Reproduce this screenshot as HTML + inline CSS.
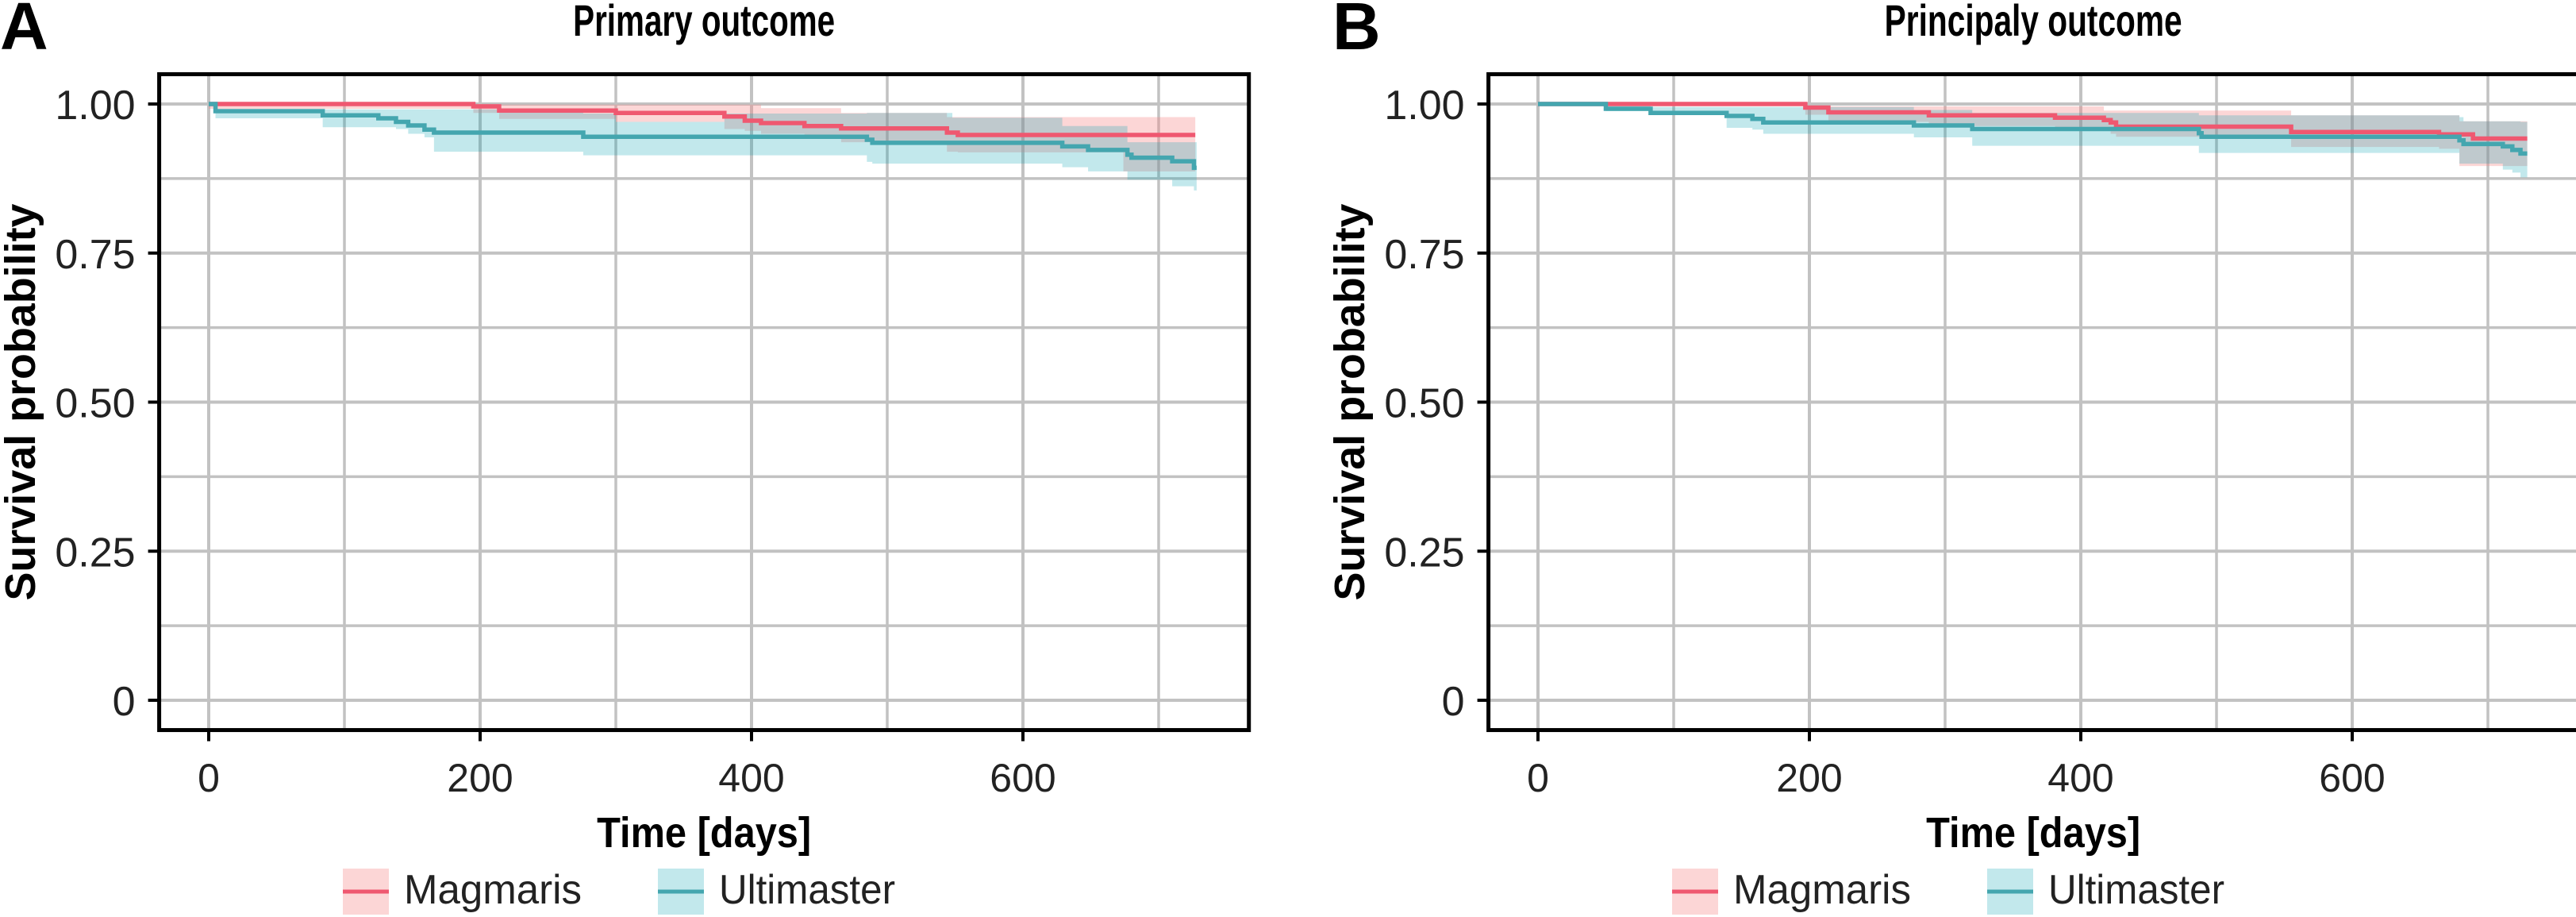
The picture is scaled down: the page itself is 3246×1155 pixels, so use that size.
<!DOCTYPE html>
<html><head><meta charset="utf-8"><style>
html,body{margin:0;padding:0;background:#fff;}
svg{display:block;font-family:"Liberation Sans",sans-serif;}
</style></head><body>
<svg id="chart" width="3246" height="1155" viewBox="0 0 3246 1155" xmlns="http://www.w3.org/2000/svg"></svg>
<script>
// ---- Data: Panel A (Primary outcome) ----
const aMagT  = [0,195,214,300,380,395,407,439,466,544,552,674,727];
const aMagS  = [1,0.996,0.989,0.985,0.979,0.972,0.968,0.963,0.959,0.952,0.948,0.948];
const aMagU  = [1,1,0.999,0.999,0.999,0.999,0.993,0.993,0.985,0.978,0.978,0.978];
const aMagL  = [0.992,0.985,0.975,0.970,0.958,0.955,0.950,0.945,0.936,0.920,0.919,0.887];
const aUltT  = [0,5,84,125,138,147,159,166,276,300,380,485,489,548,629,648,677,680,710,726,728];
const aUltS  = [1,0.988,0.981,0.976,0.970,0.964,0.957,0.952,0.945,0.945,0.945,0.940,0.935,0.935,0.929,0.923,0.915,0.910,0.904,0.893];
const aUltU  = [1,0.991,0.991,0.991,0.991,0.991,0.991,0.991,0.984,0.970,0.984,0.985,0.985,0.977,0.963,0.963,0.936,0.936,0.936,0.936];
const aUltL  = [1,0.976,0.961,0.961,0.958,0.950,0.944,0.920,0.914,0.914,0.914,0.903,0.900,0.900,0.894,0.887,0.873,0.873,0.862,0.855];
// ---- Data: Panel B (Principaly outcome) ----
const bMagT  = [0,197,214,288,381,417,422,426,555,664,679,689,729];
const bMagS  = [1,0.994,0.986,0.981,0.977,0.973,0.969,0.962,0.953,0.949,0.949,0.942];
const bMagU  = [1,0.996,0.996,0.996,0.996,0.989,0.989,0.989,0.981,0.981,0.971,0.971];
const bMagL  = [1,0.982,0.970,0.963,0.955,0.955,0.950,0.945,0.928,0.925,0.896,0.896];
const bUltT  = [0,50,83,139,158,166,277,320,487,489,679,682,711,718,724,729];
const bUltS  = [1,0.992,0.985,0.980,0.975,0.969,0.964,0.958,0.951,0.945,0.939,0.933,0.929,0.923,0.917];
const bUltU  = [1,0.999,0.995,0.995,0.995,0.995,0.990,0.985,0.981,0.981,0.978,0.971,0.971,0.971,0.970];
const bUltL  = [0.997,0.988,0.982,0.960,0.957,0.950,0.944,0.930,0.918,0.918,0.900,0.900,0.890,0.885,0.877];
// ---- Axis ticks ----
const xTicks = [0,200,400,600];
const xMinor = [100,300,500,700];
const yTicks = [0,0.25,0.5,0.75,1];
const yTickLabels = ["0","0.25","0.50","0.75","1.00"];
const yMinor = [0.125,0.375,0.625,0.875];
const seriesNames = ["Magmaris","Ultimaster"];

const NS = "http://www.w3.org/2000/svg";
const svg = document.getElementById('chart');
function mk(tag, attrs, parent){
  const e = document.createElementNS(NS, tag);
  for (const k in attrs) e.setAttribute(k, attrs[k]);
  (parent||svg).appendChild(e);
  return e;
}
const RED = "#EF5870", TEAL = "#44A6AF";
const PINKFILL = "rgba(247,130,130,0.33)", TEALFILL = "rgba(0,160,175,0.24)";

function panel(cfg){
  const g = mk('g', {});
  
  
  const x0 = cfg.x0, pxPerDay = 1.71;
  const xs = d => x0 + d * pxPerDay;
  const ys = v => 882 - v * 751;
  const left = xs(-36.5), right = xs(766.5), top = ys(1.05), bottom = ys(-0.05);
  const grid = mk('g', {stroke:"#C2C2C2"}, g);
  
  
  yMinor.forEach(v => { mk('line',{x1:left,x2:right,y1:ys(v),y2:ys(v),'stroke-width':3.5},grid); });
  xMinor.forEach(d => { mk('line',{x1:xs(d),x2:xs(d),y1:top,y2:bottom,'stroke-width':3.5},grid); });
  yTicks.forEach(v => { mk('line',{x1:left,x2:right,y1:ys(v),y2:ys(v),'stroke-width':4},grid); });
  xTicks.forEach(d => { mk('line',{x1:xs(d),x2:xs(d),y1:top,y2:bottom,'stroke-width':4},grid); });
  function band(T, U, L, fill, nm){
    let up = "", lo = [];
    for (let i=0;i<U.length;i++){
      up += (i===0?"M":"L") + xs(T[i]) + "," + ys(U[i]) + " L" + xs(T[i+1]) + "," + ys(U[i]);
      lo.unshift("L" + xs(T[i+1]) + "," + ys(L[i]) + " L" + xs(T[i]) + "," + ys(L[i]));
    }
    const p = mk('path',{d: up + " " + lo.join(" ") + " Z", fill: fill, stroke:"none"}, g);
    
    
  }
  function line(T, S, col, nm){
    let d = "";
    for (let i=0;i<S.length;i++){
      d += (i===0?"M":"L") + xs(T[i]) + "," + ys(S[i]) + " L" + xs(T[i+1]) + "," + ys(S[i]) + " ";
    }
    const p = mk('path',{d:d, fill:"none", stroke:col, 'stroke-width':5.5}, g);
    
    
  }
  band(cfg.mT, cfg.mU, cfg.mL, PINKFILL, 'magmaris-ci-band');
  band(cfg.uT, cfg.uU, cfg.uL, TEALFILL, 'ultimaster-ci-band');
  line(cfg.mT, cfg.mS, RED, 'magmaris-survival-line');
  line(cfg.uT, cfg.uS, TEAL, 'ultimaster-survival-line');
  const fr = mk('rect',{x:left,y:top,width:right-left,height:bottom-top,fill:"none",stroke:"#000",'stroke-width':5},g);
  
  
  yTicks.forEach((v,i) => {
    mk('line',{x1:left-14,x2:left,y1:ys(v),y2:ys(v),stroke:"#000",'stroke-width':4},g);
    const t = mk('text',{x:left-30,y:ys(v)+19,'text-anchor':'end','font-size':52,fill:"#222"},g);
    
    
    t.textContent = yTickLabels[i];
  });
  xTicks.forEach(d => {
    mk('line',{x1:xs(d),x2:xs(d),y1:bottom,y2:bottom+14,stroke:"#000",'stroke-width':4},g);
    const t = mk('text',{x:xs(d),y:997,'text-anchor':'middle','font-size':50,fill:"#222"},g);
    
    
    t.textContent = d;
  });
  const cx = (left+right)/2;
  const xt = mk('text',{x:cx,y:1067,'text-anchor':'middle','font-size':54,'font-weight':'bold',textLength:270,lengthAdjust:'spacingAndGlyphs'},g);
  
  
  xt.textContent = "Time [days]";
  const yt = mk('text',{x:0,y:0,'text-anchor':'middle','font-size':54,'font-weight':'bold',textLength:500,lengthAdjust:'spacingAndGlyphs',transform:`translate(${cfg.ytx},${(top+bottom)/2}) rotate(-90)`},g);
  
  
  yt.textContent = "Survival probability";
  const tt = mk('text',{x:cx,y:45,'text-anchor':'middle','font-size':56,'font-weight':'bold',textLength:cfg.titleW,lengthAdjust:'spacingAndGlyphs'},g);
  
  
  tt.textContent = cfg.title;
  const lt = mk('text',{x:cfg.letterX,y:62,'font-size':84,'font-weight':'bold'},g);
  
  
  lt.textContent = cfg.letter;
  const lg = mk('g',{},g);
  
  
  const keyX = [x0+169, x0+566];
  const cols = [[PINKFILL,RED],[TEALFILL,TEAL]];
  seriesNames.forEach((n,i) => {
    const e = mk('g',{},lg);
    
    
    mk('rect',{x:keyX[i],y:1094,width:58,height:58,fill:cols[i][0]},e);
    mk('line',{x1:keyX[i],x2:keyX[i]+58,y1:1123,y2:1123,stroke:cols[i][1],'stroke-width':5},e);
    const t = mk('text',{x:keyX[i]+77,y:1138,'font-size':52,fill:"#222",textLength:(i===0?224:222),lengthAdjust:'spacingAndGlyphs'},e);
    t.textContent = n;
  });
}
panel({name:'panel-a', x0:263, mT:aMagT,mS:aMagS,mU:aMagU,mL:aMagL, uT:aUltT,uS:aUltS,uU:aUltU,uL:aUltL,
  ytx:44, title:"Primary outcome", titleW:330, letter:"A", letterX:0});
panel({name:'panel-b', x0:1938, mT:bMagT,mS:bMagS,mU:bMagU,mL:bMagL, uT:bUltT,uS:bUltS,uU:bUltU,uL:bUltL,
  ytx:1719, title:"Principaly outcome", titleW:375, letter:"B", letterX:1679});
</script>
</body></html>
